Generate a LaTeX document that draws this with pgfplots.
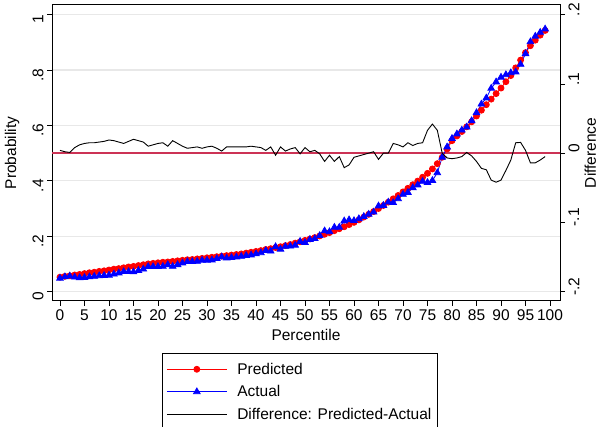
\documentclass[border=0pt]{standalone}
\usepackage{fontspec}
\setmainfont{Liberation Sans}
\usepackage{pgfplots}
\pgfplotsset{compat=1.18}
\usepackage{pgfplotstable}
\definecolor{zline}{RGB}{204,51,85}
\definecolor{gridc}{RGB}{232,232,232}
\pgfplotstableread{
x pred act diff
0 0.052 0.048 0.004
1 0.055 0.053 0.002
2 0.057 0.056 0.001
3 0.060 0.052 0.008
4 0.062 0.050 0.012
5 0.065 0.051 0.014
6 0.068 0.053 0.015
7 0.070 0.055 0.015
8 0.073 0.057 0.016
9 0.075 0.058 0.017
10 0.078 0.059 0.019
11 0.081 0.063 0.018
12 0.083 0.067 0.016
13 0.086 0.072 0.014
14 0.089 0.072 0.017
15 0.091 0.071 0.020
16 0.094 0.076 0.018
17 0.097 0.081 0.016
18 0.100 0.090 0.010
19 0.102 0.090 0.012
20 0.104 0.090 0.014
21 0.106 0.091 0.015
22 0.107 0.097 0.010
23 0.109 0.091 0.018
24 0.111 0.097 0.014
25 0.113 0.103 0.010
26 0.115 0.108 0.007
27 0.116 0.108 0.008
28 0.118 0.109 0.009
29 0.120 0.113 0.007
30 0.122 0.113 0.009
31 0.124 0.114 0.010
32 0.126 0.119 0.007
33 0.128 0.125 0.003
34 0.130 0.121 0.009
35 0.132 0.123 0.009
36 0.134 0.125 0.009
37 0.136 0.127 0.009
38 0.139 0.130 0.009
39 0.142 0.132 0.010
40 0.145 0.136 0.009
41 0.148 0.140 0.008
42 0.152 0.148 0.004
43 0.155 0.146 0.009
44 0.159 0.162 -0.003
45 0.162 0.153 0.009
46 0.166 0.163 0.003
47 0.170 0.164 0.006
48 0.175 0.167 0.008
49 0.180 0.181 -0.001
50 0.185 0.177 0.008
51 0.190 0.188 0.002
52 0.195 0.191 0.004
53 0.201 0.202 -0.001
54 0.207 0.219 -0.012
55 0.213 0.216 -0.003
56 0.220 0.232 -0.012
57 0.227 0.232 -0.005
58 0.234 0.255 -0.021
59 0.242 0.259 -0.017
60 0.250 0.256 -0.006
61 0.259 0.263 -0.004
62 0.269 0.271 -0.002
63 0.279 0.279 0.000
64 0.289 0.287 0.002
65 0.300 0.309 -0.009
66 0.311 0.311 0.000
67 0.323 0.323 0.000
68 0.335 0.321 0.014
69 0.347 0.335 0.012
70 0.360 0.351 0.009
71 0.373 0.358 0.015
72 0.386 0.375 0.011
73 0.399 0.385 0.014
74 0.413 0.398 0.015
75 0.427 0.394 0.033
76 0.443 0.401 0.042
77 0.462 0.429 0.033
78 0.485 0.485 0.000
79 0.515 0.522 -0.007
80 0.545 0.553 -0.008
81 0.562 0.569 -0.007
82 0.578 0.583 -0.005
83 0.595 0.594 0.001
84 0.613 0.617 -0.004
85 0.634 0.646 -0.012
86 0.655 0.677 -0.022
87 0.675 0.699 -0.024
88 0.695 0.734 -0.039
89 0.715 0.757 -0.042
90 0.735 0.774 -0.039
91 0.758 0.783 -0.025
92 0.780 0.790 -0.010
93 0.808 0.793 0.015
94 0.836 0.8205 0.0155
95 0.863 0.859 0.004
96 0.888 0.902 -0.014
97 0.908 0.922 -0.014
98 0.926 0.936 -0.010
99 0.943 0.948 -0.005
}\datatable
\newcommand{\chartfont}{\fontsize{15.5}{18}\selectfont}
\begin{document}
\begin{tikzpicture}[x=1pt,y=1pt]
\useasboundingbox (0,0) rectangle (599,427);
\pgfplotsset{
  base/.style={
    at={(52pt,126pt)}, anchor=south west, scale only axis,
    width=508pt, height=296pt,
    xmin=-1.63, xmax=102.04,
    tick align=outside, major tick length=5pt,
    tick style={black, line width=0.8pt},
    every tick label/.append style={font=\chartfont},
    label style={font=\chartfont},
    /pgf/number format/assume math mode=true,
  }
}
\begin{axis}[base,
  ymin=-0.034, ymax=1.035,
  axis line style={black, line width=1pt},
  xtick={0,5,...,100}, xtick pos=bottom,
  ytick={0,0.2,0.4,0.6,0.8,1}, yticklabels={0,.2,.4,.6,.8,1},
  ytick pos=left,
  yticklabel style={rotate=90, anchor=south, xshift=-5pt},
  ymajorgrids, grid style={gridc, line width=1.2pt},
  xlabel={Percentile}, ylabel={Probability},
  xlabel style={at={(axis description cs:0.5,-0.115)}, anchor=center},
  ylabel style={at={(axis description cs:-0.0787,0.5)}, anchor=center},
  legend style={at={(axis description cs:0.2165,-0.1757)}, anchor=north west,
    draw=black, line width=0.8pt, font=\chartfont, inner xsep=4pt, inner ysep=7.5pt,
    row sep=5.8pt, cells={anchor=west},
    /tikz/every odd column/.append style={column sep=8pt}},
  legend cell align=left,
  legend image code/.code={\draw[mark repeat=2,mark phase=2,#1] plot coordinates {(0pt,0pt) (30pt,0pt) (60pt,0pt)};},
]
\addplot[forget plot, zline, line width=1.5pt] coordinates {(-5,0.5) (105,0.5)};
\addplot[red, line width=0.8pt, mark=*, mark size=3pt, mark options={solid}] table[x=x, y=pred] {\datatable};
\addlegendentry{Predicted}
\addplot[blue, line width=0.8pt, mark=triangle*, mark size=3.8pt] table[x=x, y=act] {\datatable};
\addlegendentry{Actual}
\addlegendimage{black, line width=0.9pt}
\addlegendentry{Difference: Predicted-Actual\hspace{9pt}}
\end{axis}
\begin{axis}[base,
  ymin=-0.2136, ymax=0.214,
  axis x line=none, axis y line*=right,
  axis line style={black, line width=1pt},
  ytick={-0.2,-0.1,0,0.1,0.2}, yticklabels={-.2,-.1,0,.1,.2},
  yticklabel style={rotate=90, anchor=north, xshift=5pt},
  ylabel={Difference},
  ylabel style={at={(axis description cs:1.0595,0.5)}, anchor=center, rotate=0},
]
\addplot[black, line width=0.9pt] table[x=x, y=diff] {\datatable};
\end{axis}
\end{tikzpicture}
\end{document}
